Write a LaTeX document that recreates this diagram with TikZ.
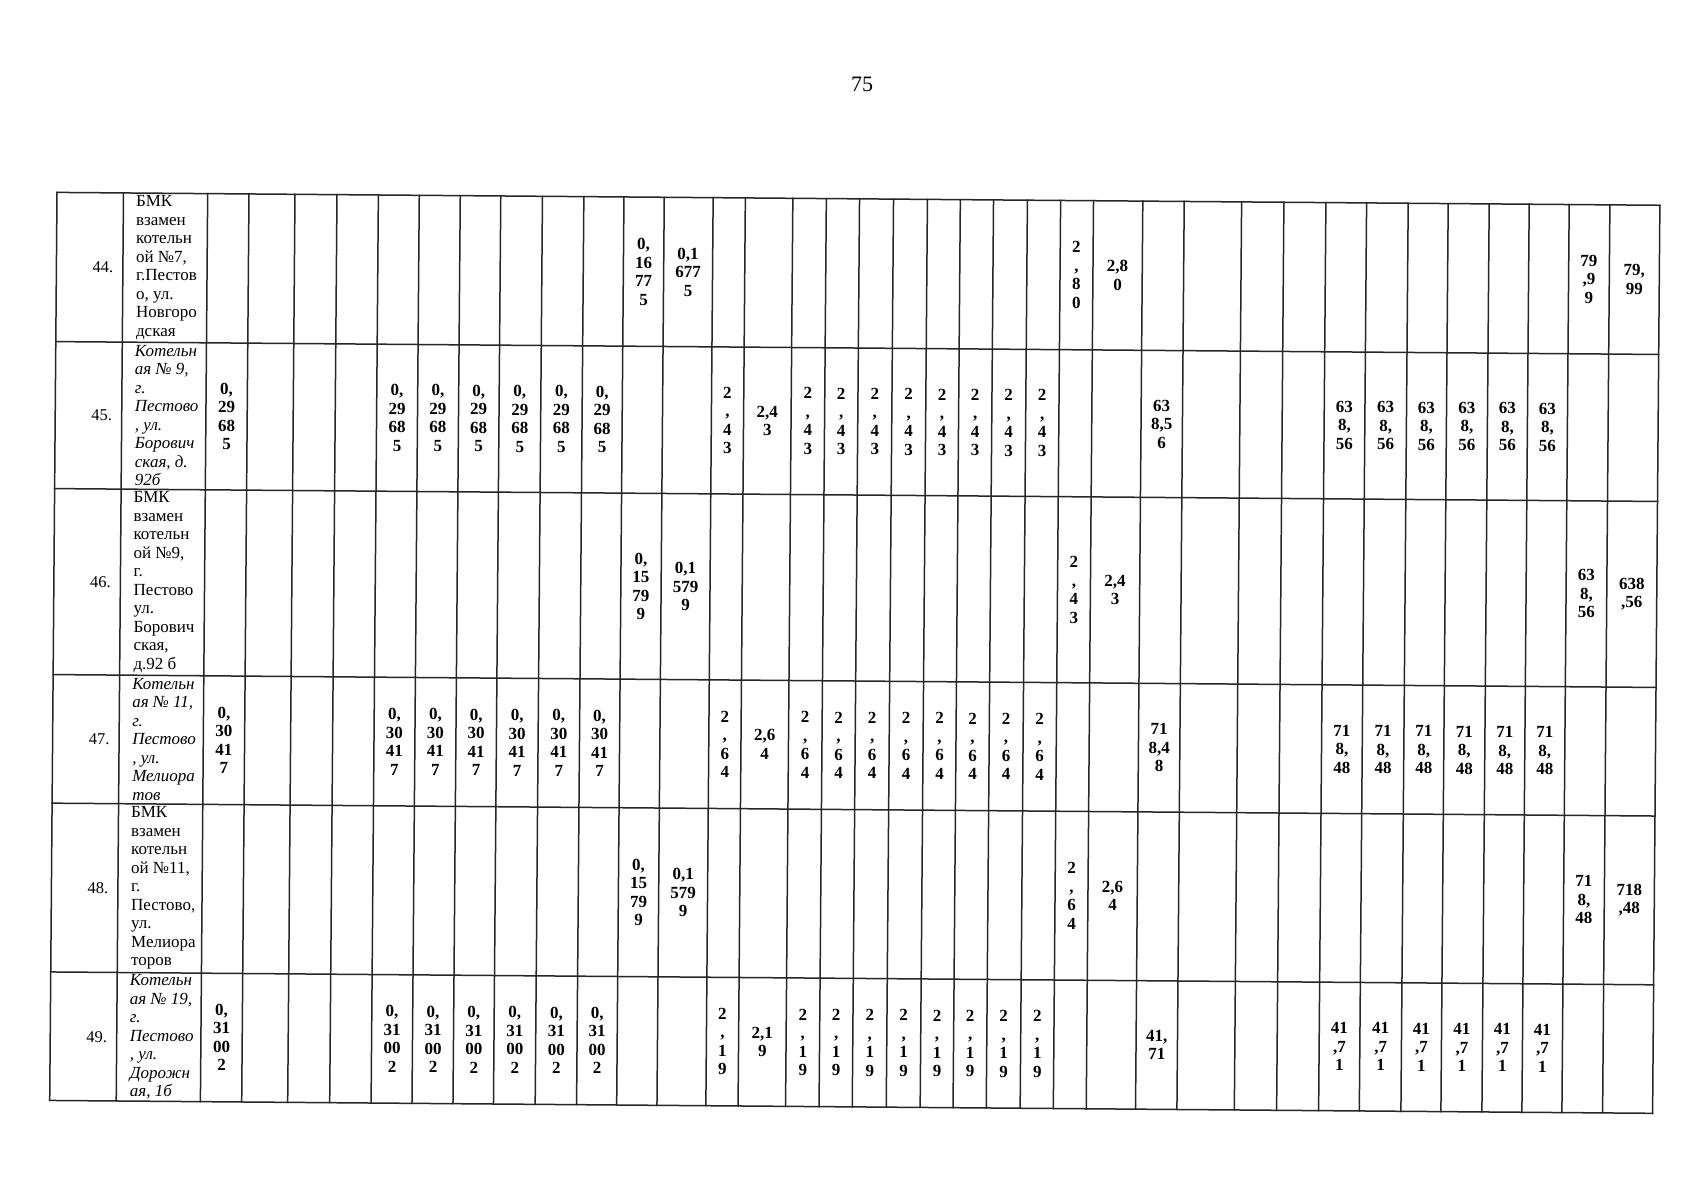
\documentclass[tikz,border=0pt]{standalone}
\usepackage{fontspec}
\setmainfont{Liberation Serif}
\newcommand\colx[1]{\ifcase\numexpr#1\relax 57\or 123.5\or 207.7\or 249\or 295\or 337\or 378.4\or 419.3\or 460.3\or 500.8\or 542.5\or 583.9\or 624\or 664.3\or 713.2\or 745.4\or 792.9\or 826.4\or 859.6\or 893.6\or 927.5\or 960.4\or 993.6\or 1027.5\or 1060.7\or 1093.6\or 1142.9\or 1184.3\or 1241.7\or 1284\or 1326\or 1366.7\or 1408.3\or 1448.3\or 1489.3\or 1529.3\or 1569.3\or 1610\or 1660\fi}
\newcommand\rowy[1]{\ifcase\numexpr#1\relax 192.4\or 341.6\or 488.6\or 674.6\or 803.2\or 972\or 1100.5\fi}
\newcommand\tcell[4]{%
  \edef\ca{\colx{#2}}\edef\cb{\colx{#2+1}}%
  \edef\ra{\rowy{#1}}\edef\rb{\rowy{#1+1}}%
  \pgfmathsetmacro\cx{(\ca+\cb)/2}%
  \pgfmathsetmacro\cy{(\ra+\rb)/2}%
  \node[numtxt] (#3) at (\cx,\cy) {#4};}
\newcommand\tidx[2]{%
  \edef\ra{\rowy{#1}}\edef\rb{\rowy{#1+1}}%
  \pgfmathsetmacro\cy{(\ra+\rb)/2}%
  \node[idxtxt] (idx#2) at (114,\cy) {#2.};}
\newcommand\tname[4]{%
  \edef\ra{\rowy{#1}}\edef\rb{\rowy{#1+1}}%
  \pgfmathsetmacro\cy{(\ra+\rb)/2}%
  \node[#2] (name#3) at (136.5,\cy) {#4};}
\begin{document}
\begin{tikzpicture}[x=1pt,y=-1pt,
  gridline/.style={line width=1.5pt, black!85, line cap=rect},
  numtxt/.style={font=\fontsize{17}{18.5}\selectfont\bfseries, align=center, inner sep=0pt},
  nametxt/.style={font=\fontsize{17}{18.5}\selectfont, align=left, anchor=west, inner sep=0pt},
  nameit/.style={nametxt, font=\fontsize{17}{18.5}\selectfont\itshape},
  idxtxt/.style={font=\fontsize{16.5}{18.5}\selectfont, anchor=east, inner sep=0pt},
  pagenum/.style={font=\fontsize{22}{26}\selectfont, inner sep=0pt}]
\useasboundingbox (0,0) rectangle (1695,1200);
\fill[white] (0,0) rectangle (1695,1200);
\node[pagenum] (page) at (862,84) {75};
\begin{scope}[rotate around={-0.46:(57,192.4)}]
  % grid
  \foreach \y in {192.4,341.6,488.6,674.6,803.2,972,1100.5}
    \draw[gridline] (57,\y) -- (1660,\y);
  \foreach \x in {57,123.5,207.7,249,295,337,378.4,419.3,460.3,500.8,542.5,583.9,624,664.3,713.2,745.4,792.9,826.4,859.6,893.6,927.5,960.4,993.6,1027.5,1060.7,1093.6,1142.9,1184.3,1241.7,1284,1326,1366.7,1408.3,1448.3,1489.3,1529.3,1569.3,1610,1660}
    \draw[gridline] (\x,192.4) -- (\x,1100.5);

  % row 44
  \tidx{0}{44}
  \tname{0}{nametxt}{44}{БМК\\взамен\\котельн\\ой №7,\\г.Пестов\\о, ул.\\Новгоро\\дская}
  \tcell{0}{12}{r44c12}{0,\\16\\77\\5}
  \tcell{0}{13}{r44c13}{0,1\\677\\5}
  \tcell{0}{24}{r44c24}{2\\,\\8\\0}
  \tcell{0}{25}{r44c25}{2,8\\0}
  \tcell{0}{36}{r44c36}{79\\,9\\9}
  \tcell{0}{37}{r44c37}{79,\\99}

  % row 45
  \tidx{1}{45}
  \tname{1}{nameit}{45}{Котельн\\ая № 9,\\г.\\Пестово\\, ул.\\Борович\\ская, д.\\92б}
  \tcell{1}{2}{r45c2}{0,\\29\\68\\5}
  \foreach \c in {6,...,11}{\tcell{1}{\c}{r45c\c}{0,\\29\\68\\5}}
  \tcell{1}{14}{r45c14}{2\\,\\4\\3}
  \tcell{1}{15}{r45c15}{2,4\\3}
  \foreach \c in {16,...,23}{\tcell{1}{\c}{r45c\c}{2\\,\\4\\3}}
  \tcell{1}{26}{r45c26}{63\\8,5\\6}
  \foreach \c in {30,...,35}{\tcell{1}{\c}{r45c\c}{63\\8,\\56}}

  % row 46
  \tidx{2}{46}
  \tname{2}{nametxt}{46}{БМК\\взамен\\котельн\\ой №9,\\г.\\Пестово\\ул.\\Борович\\ская,\\д.92 б}
  \tcell{2}{12}{r46c12}{0,\\15\\79\\9}
  \tcell{2}{13}{r46c13}{0,1\\579\\9}
  \tcell{2}{24}{r46c24}{2\\,\\4\\3}
  \tcell{2}{25}{r46c25}{2,4\\3}
  \tcell{2}{36}{r46c36}{63\\8,\\56}
  \tcell{2}{37}{r46c37}{638\\,56}

  % row 47
  \tidx{3}{47}
  \tname{3}{nameit}{47}{Котельн\\ая № 11,\\г.\\Пестово\\, ул.\\Мелиора\\тов}
  \tcell{3}{2}{r47c2}{0,\\30\\41\\7}
  \foreach \c in {6,...,11}{\tcell{3}{\c}{r47c\c}{0,\\30\\41\\7}}
  \tcell{3}{14}{r47c14}{2\\,\\6\\4}
  \tcell{3}{15}{r47c15}{2,6\\4}
  \foreach \c in {16,...,23}{\tcell{3}{\c}{r47c\c}{2\\,\\6\\4}}
  \tcell{3}{26}{r47c26}{71\\8,4\\8}
  \foreach \c in {30,...,35}{\tcell{3}{\c}{r47c\c}{71\\8,\\48}}

  % row 48
  \tidx{4}{48}
  \tname{4}{nametxt}{48}{БМК\\взамен\\котельн\\ой №11,\\г.\\Пестово,\\ул.\\Мелиора\\торов}
  \tcell{4}{12}{r48c12}{0,\\15\\79\\9}
  \tcell{4}{13}{r48c13}{0,1\\579\\9}
  \tcell{4}{24}{r48c24}{2\\,\\6\\4}
  \tcell{4}{25}{r48c25}{2,6\\4}
  \tcell{4}{36}{r48c36}{71\\8,\\48}
  \tcell{4}{37}{r48c37}{718\\,48}

  % row 49
  \tidx{5}{49}
  \tname{5}{nameit}{49}{Котельн\\ая № 19,\\г.\\Пестово\\, ул.\\Дорожн\\ая, 1б}
  \tcell{5}{2}{r49c2}{0,\\31\\00\\2}
  \foreach \c in {6,...,11}{\tcell{5}{\c}{r49c\c}{0,\\31\\00\\2}}
  \tcell{5}{14}{r49c14}{2\\,\\1\\9}
  \tcell{5}{15}{r49c15}{2,1\\9}
  \foreach \c in {16,...,23}{\tcell{5}{\c}{r49c\c}{2\\,\\1\\9}}
  \tcell{5}{26}{r49c26}{41,\\71}
  \foreach \c in {30,...,35}{\tcell{5}{\c}{r49c\c}{41\\,7\\1}}
\end{scope}
\end{tikzpicture}
\end{document}
